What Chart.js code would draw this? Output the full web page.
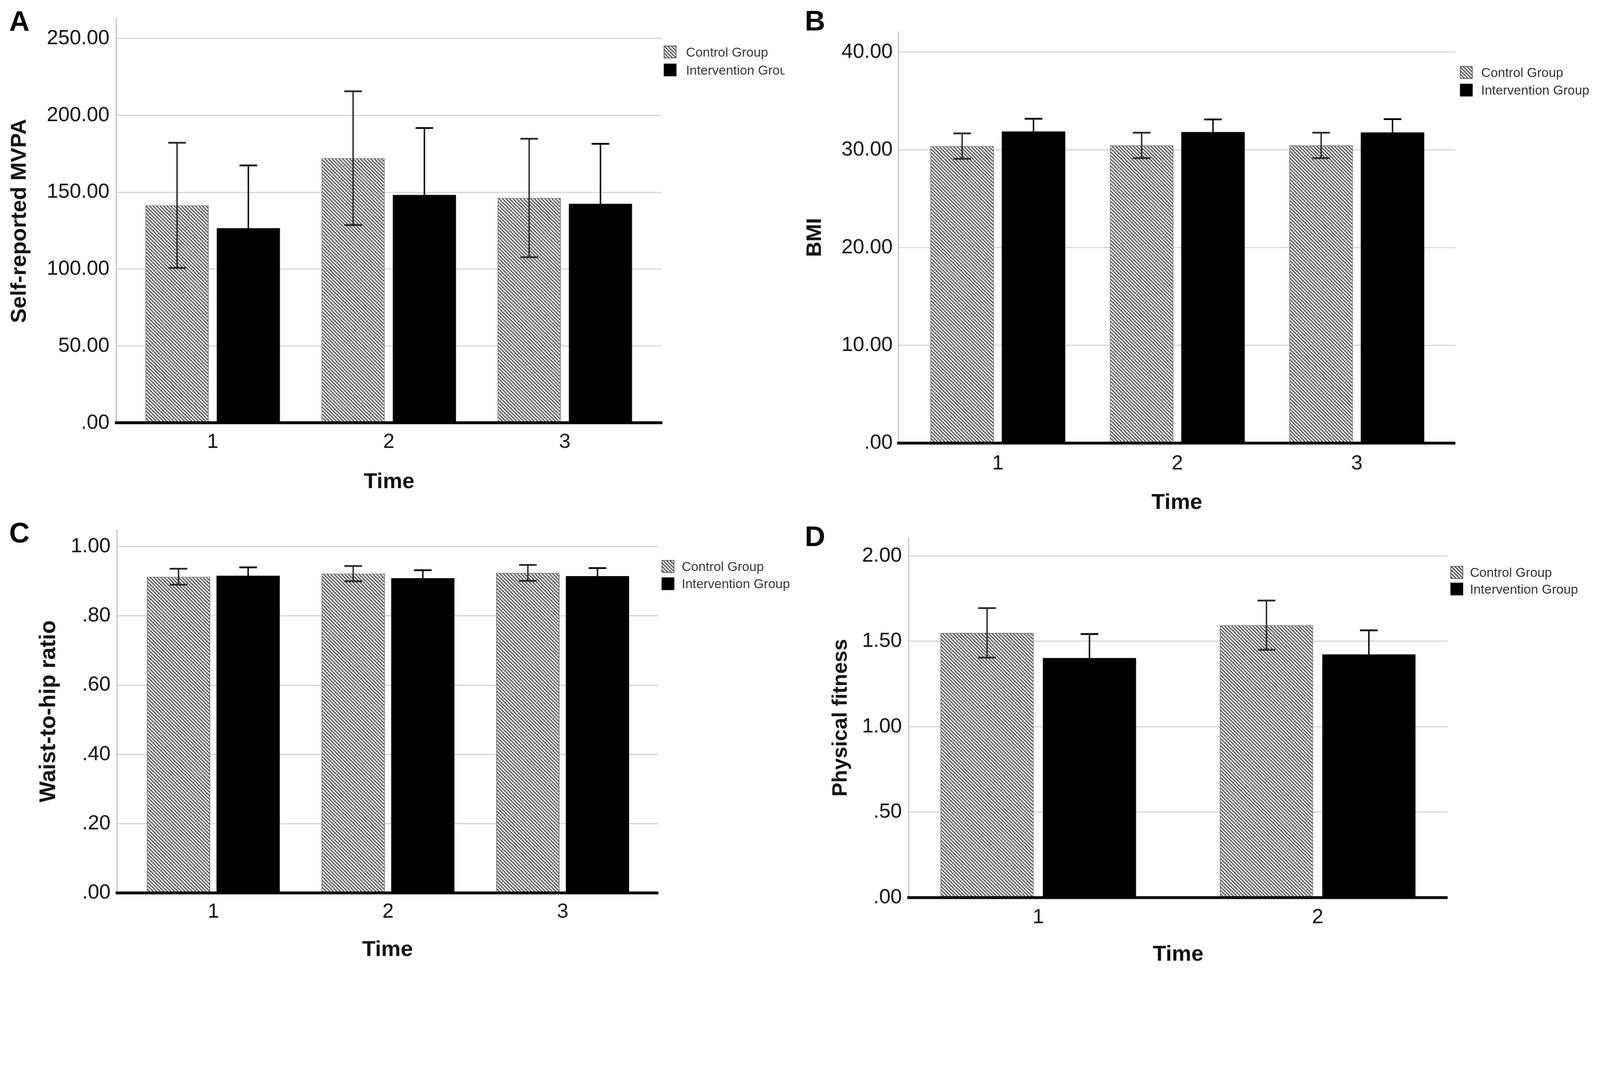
<!DOCTYPE html>
<html>
<head>
<meta charset="utf-8">
<script src="https://cdn.jsdelivr.net/npm/chart.js@4.4.1/dist/chart.umd.min.js"></script>
<style>
  html, body { margin: 0; padding: 0; background: #fff; width: 100%; height: 100%; overflow: hidden; }
  #stage { position: absolute; left: 0; top: 0; width: 4531px; height: 2765px; transform-origin: 0 0; font-family: 'Liberation Sans', Arial, sans-serif; }
  canvas { position: absolute; }
  .tag { position: absolute; font-weight: bold; font-size: 80px; line-height: 80px; color: #000; }
</style>
</head>
<body>
<div id="stage">
  <div class="tag" style="left:26px;top:20px">A</div>
  <div class="tag" style="left:2279px;top:19px">B</div>
  <div class="tag" style="left:26px;top:1470px">C</div>
  <div class="tag" style="left:2279px;top:1479px">D</div>
  <canvas id="chartA"></canvas>
  <canvas id="chartB"></canvas>
  <canvas id="chartC"></canvas>
  <canvas id="chartD"></canvas>
</div>
<script>
const timeLabels3 = ['1', '2', '3'];
const timeLabels2 = ['1', '2'];
const groupNames = ['Control Group', 'Intervention Group'];

// A - self-reported MVPA (mean, error bar half-width)
const mvpaControl = [141.5, 172.2, 146.3];
const mvpaControlErr = [40.7, 43.5, 38.5];
const mvpaIntervention = [126.7, 148.3, 142.5];
const mvpaInterventionErr = [40.8, 43.5, 39.0];
const mvpaTicks = [0, 50, 100, 150, 200, 250];

// B - BMI
const bmiControl = [30.40, 30.47, 30.47];
const bmiControlErr = [1.30, 1.30, 1.30];
const bmiIntervention = [31.90, 31.84, 31.80];
const bmiInterventionErr = [1.30, 1.29, 1.36];
const bmiTicks = [0, 10, 20, 30, 40];

// C - waist-to-hip ratio
const whrControl = [0.913, 0.922, 0.924];
const whrControlErr = [0.023, 0.022, 0.023];
const whrIntervention = [0.916, 0.909, 0.915];
const whrInterventionErr = [0.024, 0.023, 0.023];
const whrTicks = [0, 0.2, 0.4, 0.6, 0.8, 1.0];

// D - physical fitness
const fitControl = [1.549, 1.594];
const fitControlErr = [0.145, 0.144];
const fitIntervention = [1.402, 1.423];
const fitInterventionErr = [0.140, 0.141];
const fitTicks = [0, 0.5, 1.0, 1.5, 2.0];

const FONT = "'Liberation Sans', Arial, sans-serif";
const TICK_SIZE = 58;
const TITLE_SIZE = 62;

// everything is laid out on a 4531x2765 stage, scaled to the window
const stageScale = Math.min(window.innerWidth / 4531, window.innerHeight / 2765);
document.getElementById('stage').style.transform = 'scale(' + stageScale + ')';
const pixelRatio = stageScale * (window.devicePixelRatio || 1);

// SPSS style labels: .00, .20, 1.00, 250.00
function tickText(v) {
  const s = Number(v).toFixed(2);
  return s.startsWith('0.') ? s.slice(1) : s;
}

// diagonal hatch used for the control group
function makeHatch() {
  const p = 10;
  const tile = document.createElement('canvas');
  tile.width = p;
  tile.height = p;
  const t = tile.getContext('2d');
  t.fillStyle = '#f6f6f6';
  t.fillRect(0, 0, p, p);
  t.strokeStyle = '#4a4a4a';
  t.lineWidth = 3.1;
  [-p, 0, p].forEach(c => {
    t.beginPath();
    t.moveTo(-p, -p + c);
    t.lineTo(2 * p, 2 * p + c);
    t.stroke();
  });
  return t.createPattern(tile, 'repeat');
}
const hatch = makeHatch();

const errorBars = {
  id: 'errorBars',
  afterDatasetsDraw(chart) {
    const { ctx } = chart;
    const y = chart.scales.y;
    const cap = 25;
    ctx.save();
    chart.data.datasets.forEach((ds, i) => {
      ctx.strokeStyle = ds.errorColor;
      chart.getDatasetMeta(i).data.forEach((bar, j) => {
        const m = ds.data[j].y;
        const e = ds.errors[j];
        const top = y.getPixelForValue(m + e);
        const bottom = y.getPixelForValue(m - e);
        ctx.lineWidth = 4;
        ctx.beginPath();
        ctx.moveTo(bar.x, top);
        ctx.lineTo(bar.x, bottom);
        ctx.stroke();
        ctx.lineWidth = 5;
        ctx.beginPath();
        ctx.moveTo(bar.x - cap, top);
        ctx.lineTo(bar.x + cap, top);
        ctx.moveTo(bar.x - cap, bottom);
        ctx.lineTo(bar.x + cap, bottom);
        ctx.stroke();
      });
    });
    ctx.restore();
  }
};

const groupLegend = {
  id: 'groupLegend',
  afterDraw(chart, args, opts) {
    const { ctx } = chart;
    const size = 36;
    ctx.save();
    ctx.font = '37px ' + FONT;
    ctx.textBaseline = 'middle';
    groupNames.forEach((name, i) => {
      const top = opts.y + i * opts.step;
      ctx.fillStyle = i === 0 ? hatch : '#000';
      ctx.fillRect(opts.x, top, size, size);
      if (i === 0) {
        ctx.strokeStyle = '#555';
        ctx.lineWidth = 2;
        ctx.strokeRect(opts.x + 1, top + 1, size - 2, size - 2);
      }
      ctx.fillStyle = '#333';
      ctx.fillText(name, opts.textX, top + size / 2 + 3);
    });
    ctx.restore();
  }
};

function drawPanel(p) {
  const [bx, by, bw, bh] = p.box;
  const [L, T, R, B] = p.area;
  const canvas = document.getElementById(p.id);
  Object.assign(canvas.style, { left: bx + 'px', top: by + 'px', width: bw + 'px', height: bh + 'px' });
  canvas.width = bw;
  canvas.height = bh;

  const tickLH = TICK_SIZE * 1.2;
  const titleLH = TITLE_SIZE * 1.2;
  const yTitleLH = p.yTitleSize * 1.2;
  const points = vals => vals.map((v, i) => ({ x: i, y: v }));

  new Chart(canvas.getContext('2d'), {
    type: 'bar',
    data: {
      datasets: [
        {
          label: groupNames[0],
          data: points(p.control),
          errors: p.controlErr,
          errorColor: '#262626',
          backgroundColor: hatch,
          borderColor: '#666',
          borderWidth: 2,
          categoryPercentage: p.cat,
          barPercentage: p.bar
        },
        {
          label: groupNames[1],
          data: points(p.intervention),
          errors: p.interventionErr,
          errorColor: '#000',
          backgroundColor: '#000',
          borderWidth: 0,
          categoryPercentage: p.cat,
          barPercentage: p.bar
        }
      ]
    },
    options: {
      responsive: false,
      maintainAspectRatio: false,
      animation: false,
      devicePixelRatio: pixelRatio,
      layout: { padding: { left: 0, bottom: 0, top: T - by, right: bx + bw - R } },
      plugins: {
        legend: { display: false },
        tooltip: { enabled: false },
        groupLegend: {
          x: p.legend.x - bx,
          y: p.legend.y - by,
          step: p.legend.step,
          textX: p.legend.textX - bx
        }
      },
      scales: {
        x: {
          type: 'linear',
          offset: false,
          min: p.xRange[0],
          max: p.xRange[1],
          afterBuildTicks: s => { s.ticks = p.labels.map((_, i) => ({ value: i })); },
          afterFit: s => { s.height = by + bh - B; },
          grid: { display: false, drawTicks: false, offset: false },
          border: { display: true, color: '#000', width: 8, z: 1 },
          ticks: {
            callback: v => p.labels[v],
            color: '#111',
            font: { family: FONT, size: TICK_SIZE },
            padding: p.xLabelY - B - tickLH / 2,
            maxRotation: 0,
            autoSkip: false
          },
          title: {
            display: true,
            text: 'Time',
            color: '#111',
            font: { family: FONT, size: TITLE_SIZE, weight: 'bold' },
            padding: { top: 0, bottom: by + bh - p.xTitleY - titleLH / 2 }
          }
        },
        y: {
          min: 0,
          max: p.yMax,
          afterBuildTicks: s => { s.ticks = p.ticks.map(v => ({ value: v })); },
          afterFit: s => { s.width = L - bx; },
          grid: { color: '#d2d2d2', lineWidth: 3, drawTicks: false },
          border: { display: true, color: '#bdbdbd', width: 3 },
          ticks: {
            callback: v => tickText(v),
            color: '#111',
            font: { family: FONT, size: TICK_SIZE },
            padding: p.tickGap,
            autoSkip: false
          },
          title: {
            display: true,
            text: p.yTitle,
            color: '#111',
            font: { family: FONT, size: p.yTitleSize, weight: 'bold' },
            padding: { top: p.yTitleX - bx - yTitleLH / 2, bottom: 0 }
          }
        }
      }
    },
    plugins: [errorBars, groupLegend]
  });
}

drawPanel({
  id: 'chartA', box: [0, 0, 2222, 1440], area: [329, 36, 1874, 1197],
  labels: timeLabels3, control: mvpaControl, controlErr: mvpaControlErr,
  intervention: mvpaIntervention, interventionErr: mvpaInterventionErr,
  ticks: mvpaTicks, yMax: 262.7, xRange: [-0.548, 2.552], cat: 0.81, bar: 0.886,
  yTitle: 'Self-reported MVPA', yTitleSize: 62, yTitleX: 56, tickGap: 19, xLabelY: 1252, xTitleY: 1364,
  legend: { x: 1879, y: 129, step: 51, textX: 1942 }
});

drawPanel({
  id: 'chartB', box: [2265, 0, 2266, 1480], area: [2544, 90, 4121, 1254],
  labels: timeLabels3, control: bmiControl, controlErr: bmiControlErr,
  intervention: bmiIntervention, interventionErr: bmiInterventionErr,
  ticks: bmiTicks, yMax: 42.1, xRange: [-0.554, 2.549], cat: 0.795, bar: 0.89,
  yTitle: 'BMI', yTitleSize: 60, yTitleX: 2308, tickGap: 16, xLabelY: 1312, xTitleY: 1423,
  legend: { x: 4134, y: 187, step: 50, textX: 4194 }
});

drawPanel({
  id: 'chartC', box: [0, 1440, 2265, 1325], area: [331, 1500, 1863, 2528],
  labels: timeLabels3, control: whrControl, controlErr: whrControlErr,
  intervention: whrIntervention, interventionErr: whrInterventionErr,
  ticks: whrTicks, yMax: 1.049, xRange: [-0.552, 2.546], cat: 0.797, bar: 0.909,
  yTitle: 'Waist-to-hip ratio', yTitleSize: 63, yTitleX: 139, tickGap: 18, xLabelY: 2582, xTitleY: 2690,
  legend: { x: 1873, y: 1586, step: 49, textX: 1930 }
});

drawPanel({
  id: 'chartD', box: [2265, 1470, 2266, 1295], area: [2573, 1513, 4099, 2541],
  labels: timeLabels2, control: fitControl, controlErr: fitControlErr,
  intervention: fitIntervention, interventionErr: fitInterventionErr,
  ticks: fitTicks, yMax: 2.104, xRange: [-0.464, 1.465], cat: 0.733, bar: 0.91,
  yTitle: 'Physical fitness', yTitleSize: 59, yTitleX: 2382, tickGap: 19, xLabelY: 2598, xTitleY: 2703,
  legend: { x: 4107, y: 1603, step: 47, textX: 4162 }
});
</script>
</body>
</html>
